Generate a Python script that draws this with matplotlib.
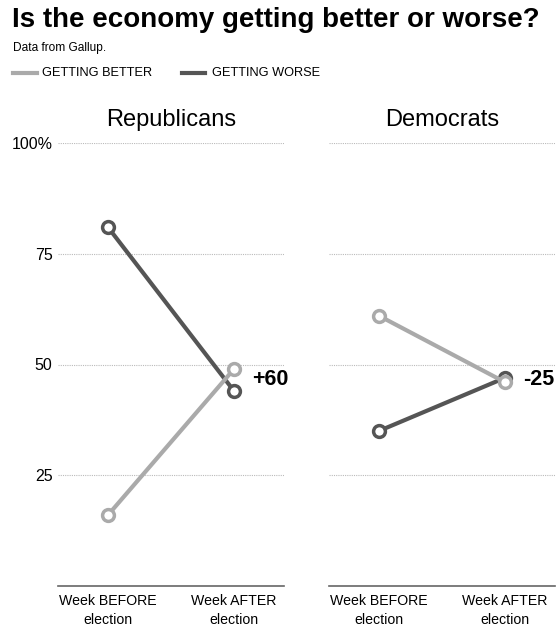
import matplotlib
matplotlib.use("Agg")
import matplotlib.pyplot as plt
from matplotlib.lines import Line2D

plt.rcParams['font.family'] = ['Liberation Sans', 'DejaVu Sans']

# data
periods = ["Week BEFORE\nelection", "Week AFTER\nelection"]
parties = ["Republicans", "Democrats"]
better = {"Republicans": [16, 49], "Democrats": [61, 46]}
worse = {"Republicans": [81, 44], "Democrats": [35, 47]}
net_labels = {"Republicans": "+60", "Democrats": "-25"}
yticks = [25, 50, 75, 100]
ytick_labels = ["25", "50", "75", "100%"]

c_better = "#aaaaaa"
c_worse = "#555555"

fig = plt.figure(figsize=(5.56, 6.27), dpi=100)

fig.text(12/556, 1 - 20/627, "Is the economy getting better or worse?",
         fontsize=20, fontweight="bold", va="center", ha="left")
fig.text(13/556, 1 - 48/627, "Data from Gallup.", fontsize=8.6, va="center", ha="left")

# legend drawn by hand
fig.add_artist(Line2D([13/556, 37/556], [1 - 73/627] * 2, color=c_better, lw=3))
fig.text(42/556, 1 - 73/627, "GETTING BETTER", fontsize=9.2, va="center")
fig.add_artist(Line2D([182/556, 205/556], [1 - 73/627] * 2, color=c_worse, lw=3))
fig.text(212/556, 1 - 73/627, "GETTING WORSE", fontsize=9.2, va="center")

lefts = [58/556, 329/556]
for i, party in enumerate(parties):
    ax = fig.add_axes([lefts[i], 1 - 586/627, 226/556, 443/627])
    x = [0, 1]
    ax.plot(x, worse[party], color=c_worse, lw=3, marker="o", ms=8.5,
            mfc="white", mec=c_worse, mew=2.5, zorder=3)
    ax.plot(x, better[party], color=c_better, lw=3, marker="o", ms=8.5,
            mfc="white", mec=c_better, mew=2.5, zorder=4)
    ax.set_xlim(-0.396, 1.396)
    ax.set_ylim(0, 100)
    ax.set_yticks(yticks)
    if i == 0:
        ax.set_yticklabels(ytick_labels, fontsize=11.5)
    else:
        ax.set_yticklabels([])
    ax.tick_params(axis="y", length=0, pad=4)
    ax.set_xticks(x)
    ax.set_xticklabels(periods, fontsize=10.2, linespacing=1.45)
    ax.tick_params(axis="x", length=0, pad=6)
    ax.grid(axis="y", linestyle=(0, (1, 1)), color="#bbbbbb", lw=0.8)
    ax.set_axisbelow(True)
    for s in ["left", "right", "top"]:
        ax.spines[s].set_visible(False)
    ax.spines["bottom"].set_color("#666666")
    ax.spines["bottom"].set_linewidth(1.2)
    ax.set_title(party, fontsize=17, pad=12)
    ax.text(1.14, 46.6, net_labels[party], fontsize=15.5, fontweight="bold",
            va="center", ha="left", clip_on=False)

fig.savefig("out.png", dpi=100)
